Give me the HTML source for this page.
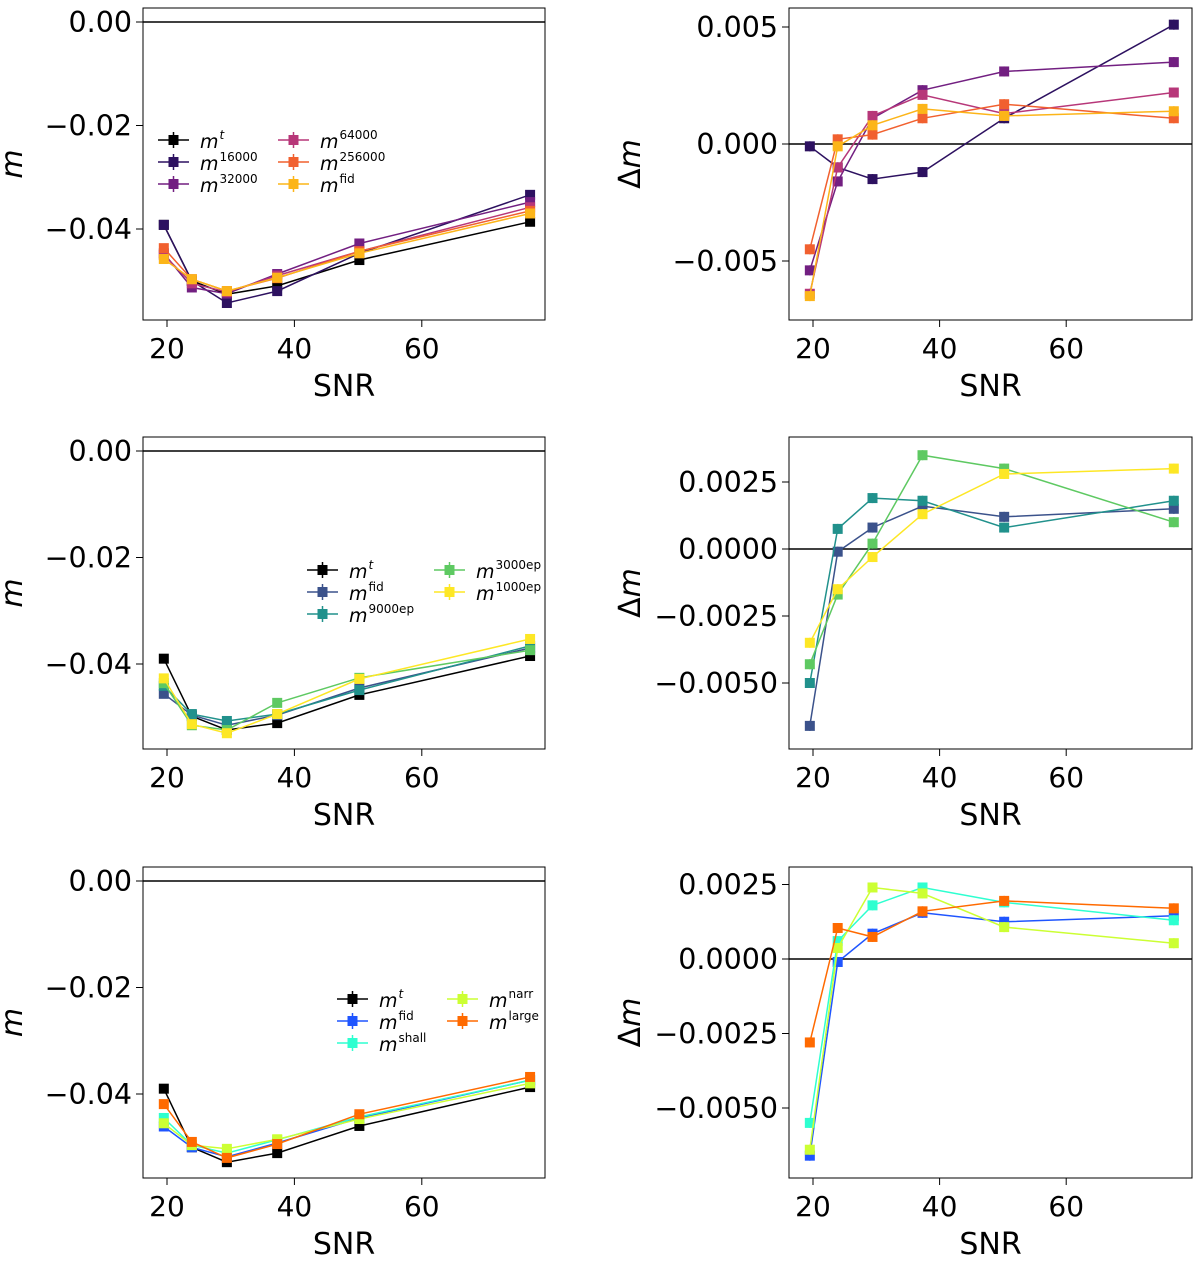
<!DOCTYPE html>
<html><head><meta charset="utf-8">
<style>
body{margin:0;background:#fff;}
svg{display:block;font-family:"DejaVu Sans","Liberation Sans",sans-serif;}
</style></head>
<body>
<svg id="fig" width="1200" height="1263" viewBox="0 0 1200 1263" xmlns="http://www.w3.org/2000/svg"></svg>
<script>
const snr = [19.5, 23.9, 29.4, 37.3, 50.2, 77.0];
const xTicks = [20, 40, 60];

// Panel A (left top): m
const aNames = ["t","16000","32000","64000","256000","fid"];
const aColors = ["#000000","#2d1160","#721f81","#b73779","#f1602f","#fcb519"];
const aMt     = [-0.0392,-0.0500,-0.0526,-0.0510,-0.0460,-0.0386];
const aM16000 = [-0.0392,-0.0500,-0.0543,-0.0520,-0.0447,-0.0334];
const aM32000 = [-0.0447,-0.0513,-0.0525,-0.0487,-0.0428,-0.0348];
const aM64000 = [-0.0450,-0.0505,-0.0522,-0.0490,-0.0443,-0.0358];
const aM256000= [-0.0437,-0.0497,-0.0520,-0.0495,-0.0443,-0.0365];
const aMfid   = [-0.0458,-0.0497,-0.0520,-0.0494,-0.0447,-0.0370];
// Panel B (right top): delta m
const bD16000 = [-0.0001,-0.0010,-0.0015,-0.0012,0.0011,0.0051];
const bD32000 = [-0.0054,-0.0016,0.0011,0.0023,0.0031,0.0035];
const bD64000 = [-0.0064,-0.0010,0.0012,0.0021,0.0013,0.0022];
const bD256000= [-0.0045,0.0002,0.0004,0.0011,0.0017,0.0011];
const bDfid   = [-0.0065,-0.0001,0.0008,0.0015,0.0012,0.0014];
// Panel C (left middle)
const cNames = ["t","fid","9000ep","3000ep","1000ep"];
const cColors = ["#000000","#3b528b","#21918c","#5ec962","#fde725"];
const cMt   = [-0.0390,-0.0498,-0.0524,-0.0511,-0.0458,-0.0385];
const cMfid = [-0.0456,-0.0496,-0.0515,-0.0496,-0.0445,-0.0370];
const cM9000= [-0.0441,-0.0494,-0.0507,-0.0494,-0.0449,-0.0366];
const cM3000= [-0.0436,-0.0515,-0.0524,-0.0473,-0.0426,-0.0374];
const cM1000= [-0.0427,-0.0513,-0.0530,-0.0494,-0.0428,-0.0353];
// Panel D (right middle)
const dDfid = [-0.0066,-0.0001,0.0008,0.0016,0.0012,0.0015];
const dD9000= [-0.0050,0.00075,0.0019,0.0018,0.0008,0.0018];
const dD3000= [-0.0043,-0.0017,0.0002,0.0035,0.0030,0.0010];
const dD1000= [-0.0035,-0.0015,-0.0003,0.0013,0.0028,0.0030];
// Panel E (left bottom)
const eNames = ["t","fid","shall","narr","large"];
const eColors = ["#000000","#1f55ff","#2effd0","#ccff33","#ff6a00"];
const eMt    = [-0.0390,-0.0500,-0.0528,-0.0511,-0.0460,-0.0387];
const eMfid  = [-0.0461,-0.0500,-0.0518,-0.0492,-0.0445,-0.0374];
const eMshall= [-0.0445,-0.0496,-0.0511,-0.0486,-0.0443,-0.0374];
const eMnarr = [-0.0455,-0.0496,-0.0503,-0.0485,-0.0447,-0.0380];
const eMlarge= [-0.0419,-0.0490,-0.0520,-0.0494,-0.0438,-0.0368];
// Panel F (right bottom)
const fDfid  = [-0.0066,-0.0001,0.00085,0.00155,0.00125,0.00145];
const fDshall= [-0.0055,0.0006,0.0018,0.0024,0.0019,0.0013];
const fDnarr = [-0.0064,0.00037,0.0024,0.0022,0.00107,0.00053];
const fDlarge= [-0.0028,0.00104,0.00074,0.0016,0.00195,0.0017];

const leftTicks = [0.00,-0.02,-0.04];
const leftTickLabels = ["0.00","\u22120.02","\u22120.04"];
const rTopTicks = [0.005,0,-0.005];
const rTopLabels = ["0.005","0.000","\u22120.005"];
const rTicks = [0.0025,0,-0.0025,-0.005];
const rLabels = ["0.0025","0.0000","\u22120.0025","\u22120.0050"];

const NS="http://www.w3.org/2000/svg";
const svg=document.getElementById('fig');
function mk(tag,attrs,parent){const e=document.createElementNS(NS,tag);for(const k in attrs)e.setAttribute(k,attrs[k]);(parent||svg).appendChild(e);return e;}

function panel(o){
  const g=mk('g',{});
  
  
  const X=v=>o.x0+(v-20)*o.xs;
  const Y=v=>o.y0-v*o.ys;
  const zl=mk('line',{x1:o.l,x2:o.r,y1:Y(0),y2:Y(0),stroke:'#000','stroke-width':1.5},g);
  
  
  o.series.forEach((s,i)=>{
    const sg=mk('g',{},g);
    
    
    const pts=snr.map((x,j)=>X(x).toFixed(1)+','+Y(s[j]).toFixed(1)).join(' ');
    mk('polyline',{points:pts,fill:'none',stroke:o.colors[i],'stroke-width':1.5},sg);
    snr.forEach((x,j)=>{
      const cx=X(x),cy=Y(s[j]);
      mk('line',{x1:cx,x2:cx,y1:cy-o.err,y2:cy+o.err,stroke:o.colors[i],'stroke-width':1.5},sg);
      const m=mk('rect',{x:cx-5,y:cy-5,width:10,height:10,fill:o.colors[i]},sg);
      
      
    });
  });
  mk('rect',{x:o.l,y:o.t,width:o.r-o.l,height:o.b-o.t,fill:'none',stroke:'#000','stroke-width':1},g);
  xTicks.forEach(v=>{
    const x=X(v);
    mk('line',{x1:x,x2:x,y1:o.b,y2:o.b+7,stroke:'#000','stroke-width':1},g);
    const t=mk('text',{x:x,y:o.b+38,'font-size':28,'text-anchor':'middle'},g);
    t.textContent=v;
    
    
  });
  o.yticks.forEach((v,i)=>{
    const y=Y(v);
    mk('line',{x1:o.l-7,x2:o.l,y1:y,y2:y,stroke:'#000','stroke-width':1},g);
    const t=mk('text',{x:o.l-11,y:y+10,'font-size':28.5,'text-anchor':'end'},g);
    t.textContent=o.ylabels[i];
    
    
  });
  const xt=mk('text',{x:(o.l+o.r)/2,y:o.b+76,'font-size':30,'text-anchor':'middle'},g);
  xt.textContent='SNR';
  
  
  const yc=(o.t+o.b)/2;
  const yt=mk('text',{x:o.ytx,y:yc,'font-size':30,'text-anchor':'middle',transform:`rotate(-90 ${o.ytx} ${yc})`},g);
  yt.innerHTML=o.ytitle;
  
  
  if(o.legend){
    const L=o.legend;
    const lg=mk('g',{},g);
    
    
    o.labels.forEach((lab,i)=>{
      const col=i<L.perCol?0:1, row=i<L.perCol?i:i-L.perCol;
      const lx=L.cols[col], ly=L.y+row*22;
      const eg=mk('g',{},lg);
      
      
      mk('line',{x1:lx,x2:lx+31,y1:ly,y2:ly,stroke:o.colors[i],'stroke-width':1.5},eg);
      mk('line',{x1:lx+15.5,x2:lx+15.5,y1:ly-8,y2:ly+8,stroke:o.colors[i],'stroke-width':1.5},eg);
      mk('rect',{x:lx+10.5,y:ly-5,width:10,height:10,fill:o.colors[i]},eg);
      const t=mk('text',{x:lx+42,y:ly+8,'font-size':19},eg);
      t.innerHTML=`<tspan font-style="italic">m</tspan><tspan dx="1" dy="-9" font-size="12" font-style="${lab==='t'?'italic':'normal'}">${lab}</tspan>`;
    });
  }
}

const LX={l:143,r:545,x0:167,xs:6.37,ytx:22};
const RX={l:789,r:1192,x0:813,xs:6.33,ytx:640};
panel({name:'panel-m-learning-rate',...LX,t:8,b:320,y0:22,ys:5175,err:0,yticks:leftTicks,ylabels:leftTickLabels,ytitle:'<tspan font-style="italic">m</tspan>',
  series:[aMt,aM16000,aM32000,aM64000,aM256000,aMfid],colors:aColors,labels:aNames,legend:{cols:[158,278],y:140,perCol:3}});
panel({name:'panel-dm-learning-rate',...RX,t:8,b:320,y0:144,ys:23400,err:5,yticks:rTopTicks,ylabels:rTopLabels,ytitle:'Δ<tspan font-style="italic">m</tspan>',
  series:[bD16000,bD32000,bD64000,bD256000,bDfid],colors:aColors.slice(1),labels:aNames.slice(1)});
panel({name:'panel-m-epochs',...LX,t:437,b:749,y0:451,ys:5325,err:0,yticks:leftTicks,ylabels:leftTickLabels,ytitle:'<tspan font-style="italic">m</tspan>',
  series:[cMt,cMfid,cM9000,cM3000,cM1000],colors:cColors,labels:cNames,legend:{cols:[307,434],y:570,perCol:3}});
panel({name:'panel-dm-epochs',...RX,t:437,b:749,y0:549,ys:26800,err:5,yticks:rTicks,ylabels:rLabels,ytitle:'Δ<tspan font-style="italic">m</tspan>',
  series:[dDfid,dD9000,dD3000,dD1000],colors:cColors.slice(1),labels:cNames.slice(1)});
panel({name:'panel-m-architecture',...LX,t:867,b:1178,y0:881,ys:5325,err:0,yticks:leftTicks,ylabels:leftTickLabels,ytitle:'<tspan font-style="italic">m</tspan>',
  series:[eMt,eMfid,eMshall,eMnarr,eMlarge],colors:eColors,labels:eNames,legend:{cols:[337,447],y:999,perCol:3}});
panel({name:'panel-dm-architecture',...RX,t:867,b:1178,y0:959,ys:29800,err:5,yticks:rTicks,ylabels:rLabels,ytitle:'Δ<tspan font-style="italic">m</tspan>',
  series:[fDfid,fDshall,fDnarr,fDlarge],colors:eColors.slice(1),labels:eNames.slice(1)});
</script>
</body></html>
